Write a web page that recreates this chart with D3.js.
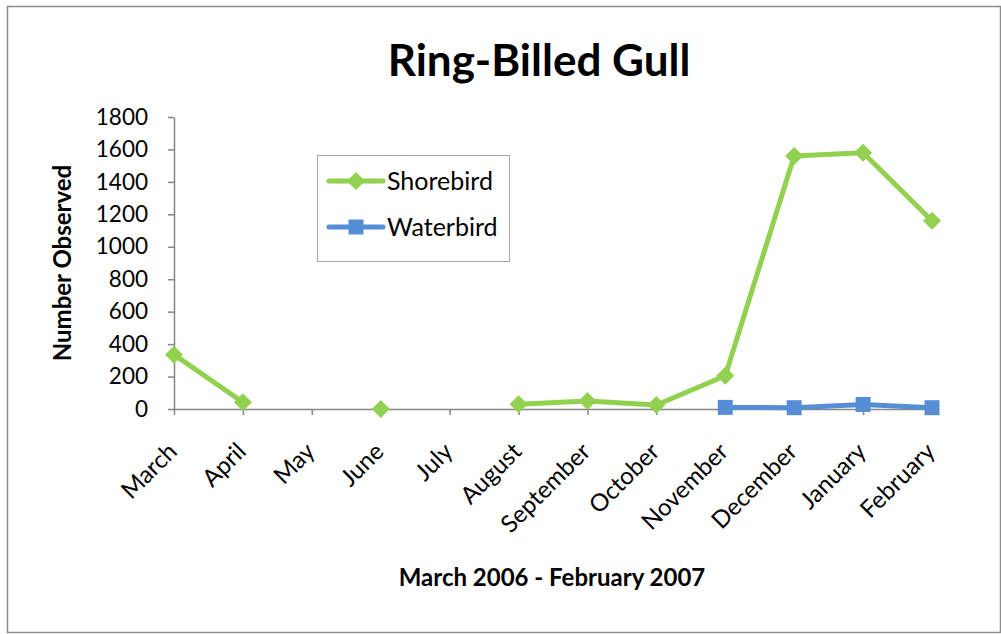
<!DOCTYPE html>
<html>
<head>
<meta charset="utf-8">
<script src="https://cdn.jsdelivr.net/npm/d3@7"></script>
<style>
  html, body { margin: 0; padding: 0; background: #fff; }
  svg { display: block; }
  text { font-family: Lato, "Open Sans", sans-serif; fill: #000; }
</style>
</head>
<body>
<svg id="chart" width="1001" height="634"></svg>
<script>
// Monthly counts, March 2006 – February 2007 (null = no survey that month)
const months = ["March", "April", "May", "June", "July", "August", "September",
                "October", "November", "December", "January", "February"];
const shorebird = [335, 42, null, 0, null, 30, 50, 25, 205, 1560, 1580, 1160];
const waterbird = [null, null, null, null, null, null, null, null, 10, 8, 28, 8];
const yTicks = [0, 200, 400, 600, 800, 1000, 1200, 1400, 1600, 1800];

const svg = d3.select("#chart");
const W = 1001, H = 634;

// Outer frame
svg.append("rect")
  .attr("x", 7.5).attr("y", 6.5)
  .attr("width", W - 8).attr("height", H - 8)
  .attr("fill", "none").attr("stroke", "#8c8c8c").attr("stroke-width", 1.5);

const plot = { left: 174, right: 932, top: 117, bottom: 409 };

const x = d3.scalePoint().domain(months).range([plot.left, plot.right]);
const y = d3.scaleLinear().domain([0, 1800]).range([plot.bottom, plot.top]);

const axisColor = "#868686";

// Y axis
const yAxis = svg.append("g")
  .attr("transform", `translate(${plot.left},0)`)
  .call(d3.axisLeft(y).tickValues(yTicks).tickFormat(d3.format("d"))
    .tickSize(6).tickPadding(20).tickSizeOuter(0));
yAxis.select(".domain").attr("stroke", axisColor).attr("stroke-width", 1.5);
yAxis.selectAll(".tick line").attr("stroke", axisColor).attr("stroke-width", 1.5);
yAxis.selectAll(".tick text")
  .style("font-family", "Lato, sans-serif").style("font-size", "22.5px").attr("fill", "#000");

// X axis
const xAxis = svg.append("g")
  .attr("transform", `translate(0,${plot.bottom})`)
  .call(d3.axisBottom(x).tickSize(6).tickSizeOuter(0));
xAxis.select(".domain").attr("stroke", axisColor).attr("stroke-width", 1.5);
xAxis.selectAll(".tick line").attr("stroke", axisColor).attr("stroke-width", 1.5);
xAxis.selectAll(".tick text")
  .style("font-family", "Lato, sans-serif").style("font-size", "24px").attr("fill", "#000")
  .attr("text-anchor", "end")
  .attr("x", 0).attr("y", 0).attr("dy", 0)
  .attr("transform", "translate(4,44) rotate(-45)");

// Series lines (gaps where a month has no count)
const line = d3.line()
  .defined(d => d.v !== null)
  .x(d => x(d.m))
  .y(d => y(d.v));

const series = [
  { name: "Shorebird", values: shorebird, color: "#92D050", marker: "diamond" },
  { name: "Waterbird", values: waterbird, color: "#558ED5", marker: "square" }
];

function markerPath(kind) {
  if (kind === "diamond") return "M0,-9L9,0L0,9L-9,0Z";
  return "M-7.5,-7.5H7.5V7.5H-7.5Z";
}

series.forEach(s => {
  const pts = months.map((m, i) => ({ m, v: s.values[i] }));
  svg.append("path")
    .datum(pts)
    .attr("fill", "none")
    .attr("stroke", s.color)
    .attr("stroke-width", 5)
    .attr("stroke-linejoin", "round")
    .attr("d", line);
  svg.append("g").selectAll("path")
    .data(pts.filter(d => d.v !== null))
    .join("path")
    .attr("transform", d => `translate(${x(d.m)},${y(d.v)})`)
    .attr("d", markerPath(s.marker))
    .attr("fill", s.color);
});

// Legend
const legend = svg.append("g");
legend.append("rect")
  .attr("x", 317.5).attr("y", 155.5).attr("width", 192).attr("height", 106)
  .attr("fill", "#fff").attr("stroke", "#a6a6a6").attr("stroke-width", 1);
series.forEach((s, i) => {
  const ly = 181 + i * 46;
  legend.append("line")
    .attr("x1", 329).attr("x2", 383).attr("y1", ly).attr("y2", ly)
    .attr("stroke", s.color).attr("stroke-width", 5).attr("stroke-linecap", "round");
  legend.append("path")
    .attr("transform", `translate(356,${ly})`)
    .attr("d", markerPath(s.marker))
    .attr("fill", s.color);
  legend.append("text")
    .attr("x", 387).attr("y", ly + 9)
    .style("font-size", "25px")
    .text(s.name);
});

// Titles
svg.append("text")
  .attr("x", 539).attr("y", 76)
  .attr("text-anchor", "middle")
  .style("font-size", "44px").style("font-weight", "bold")
  .text("Ring-Billed Gull");

svg.append("text")
  .attr("x", 552).attr("y", 586)
  .attr("text-anchor", "middle")
  .style("font-size", "24px").style("font-weight", "bold")
  .text("March 2006 - February 2007");

svg.append("text")
  .attr("transform", "translate(71,263) rotate(-90)")
  .attr("text-anchor", "middle")
  .style("font-size", "24px").style("font-weight", "bold")
  .text("Number Observed");
</script>
</body>
</html>
